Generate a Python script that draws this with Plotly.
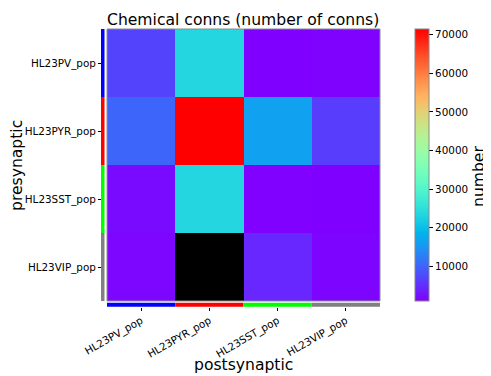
import math
import plotly.graph_objects as go

pops = ["HL23PV_pop", "HL23PYR_pop", "HL23SST_pop", "HL23VIP_pop"]
pop_colors = ["#0000ff", "#ff0000", "#00ff00", "#808080"]

# rows = presynaptic, cols = postsynaptic
row_pv = [6900, 23500, 950, 1100]
row_pyr = [10100, 71500, 16400, 6400]
row_sst = [1800, 23500, 1000, 950]
row_vip = [1500, 0, 4400, 1400]
conns = [row_pv, row_pyr, row_sst, row_vip]

cbar_ticks = [10000, 20000, 30000, 40000, 50000, 60000, 70000]

OFF = 8  # default page body margin
W, H = 491 - OFF, 376 - OFF

def px(x):
    return (x - OFF) / W

def py(y):
    return 1 - (y - OFF) / H

# matplotlib "rainbow" colormap
def rainbow(t):
    r = abs(2 * t - 0.5)
    g = math.sin(math.pi * t)
    b = math.cos(math.pi * t / 2)
    r = min(max(r, 0), 1)
    return "rgb(%d,%d,%d)" % (round(r * 255), round(g * 255), round(b * 255))

cs = [[i / 20, rainbow(i / 20)] for i in range(21)]

nonzero = [[v if v != 0 else None for v in row] for row in conns]
zeros = [[1 if v == 0 else None for v in row] for row in conns]
vals = [v for row in conns for v in row if v != 0]

fig = go.Figure()
fig.add_trace(go.Heatmap(
    z=nonzero, x=pops, y=pops, colorscale=cs,
    zmin=min(vals), zmax=max(vals),
    colorbar=dict(
        x=px(415), xanchor="left", y=py(29), yanchor="top",
        len=272 / H, lenmode="fraction", thickness=14, thicknessmode="pixels",
        outlinecolor="#888888", outlinewidth=1,
        tickvals=cbar_ticks, tickformat="d", ticks="outside", ticklen=4, tickcolor="#000",
        tickfont=dict(family="DejaVu Sans", size=10.4, color="#000"),
        xpad=0, ypad=0,
    ),
    hoverongaps=False,
))
fig.add_trace(go.Heatmap(
    z=zeros, x=pops, y=pops, colorscale=[[0, "black"], [1, "black"]],
    showscale=False, hoverongaps=False,
))

shapes = []
for i, c in enumerate(pop_colors):
    shapes.append(dict(type="rect", xref="paper", yref="y",
                       x0=px(101), x1=px(104.5), y0=i - 0.5, y1=i + 0.5,
                       fillcolor=c, line=dict(width=0), layer="above"))
    shapes.append(dict(type="rect", xref="x", yref="paper",
                       x0=i - 0.5, x1=i + 0.5, y0=py(306.7), y1=py(302.7),
                       fillcolor=c, line=dict(width=0), layer="above"))
shapes.append(dict(type="rect", xref="x domain", yref="y domain",
                   x0=0, x1=1, y0=0, y1=1,
                   line=dict(color="#8c8c8c", width=1), layer="above"))

tickfont = dict(family="DejaVu Sans", size=10.4, color="#000")
fig.update_layout(
    width=W, height=H,
    margin=dict(l=0, r=0, t=0, b=0, autoexpand=False),
    paper_bgcolor="white", plot_bgcolor="white",
    xaxis=dict(domain=[px(107), px(380)], anchor="free", position=py(306.7),
               ticks="outside", ticklen=3, tickcolor="#000", tickangle=-30,
               automargin=False,
               tickfont=tickfont, showgrid=False, zeroline=False, showline=False),
    yaxis=dict(domain=[py(301), py(29)], anchor="free", position=px(101),
               autorange="reversed", automargin=False,
               ticks="outside", ticklen=3, tickcolor="#000",
               tickfont=tickfont, showgrid=False, zeroline=False, showline=False),
    shapes=shapes,
    annotations=[
        dict(text="Chemical conns (number of conns)", xref="paper", yref="paper",
             x=px(243), y=py(20), xanchor="center", yanchor="middle", showarrow=False,
             font=dict(family="DejaVu Sans", size=15.6, color="#000")),
        dict(text="postsynaptic", xref="paper", yref="paper",
             x=px(243), y=py(365), xanchor="center", yanchor="middle", showarrow=False,
             font=dict(family="DejaVu Sans", size=15.6, color="#000")),
        dict(text="presynaptic", xref="paper", yref="paper", textangle=-90,
             x=px(17), y=py(166), xanchor="center", yanchor="middle", showarrow=False,
             font=dict(family="DejaVu Sans", size=15.6, color="#000")),
        dict(text="number", xref="paper", yref="paper", textangle=-90,
             x=px(479), y=py(177), xanchor="center", yanchor="middle", showarrow=False,
             font=dict(family="DejaVu Sans", size=15.6, color="#000")),
    ],
)

fig.write_html("out.html")
